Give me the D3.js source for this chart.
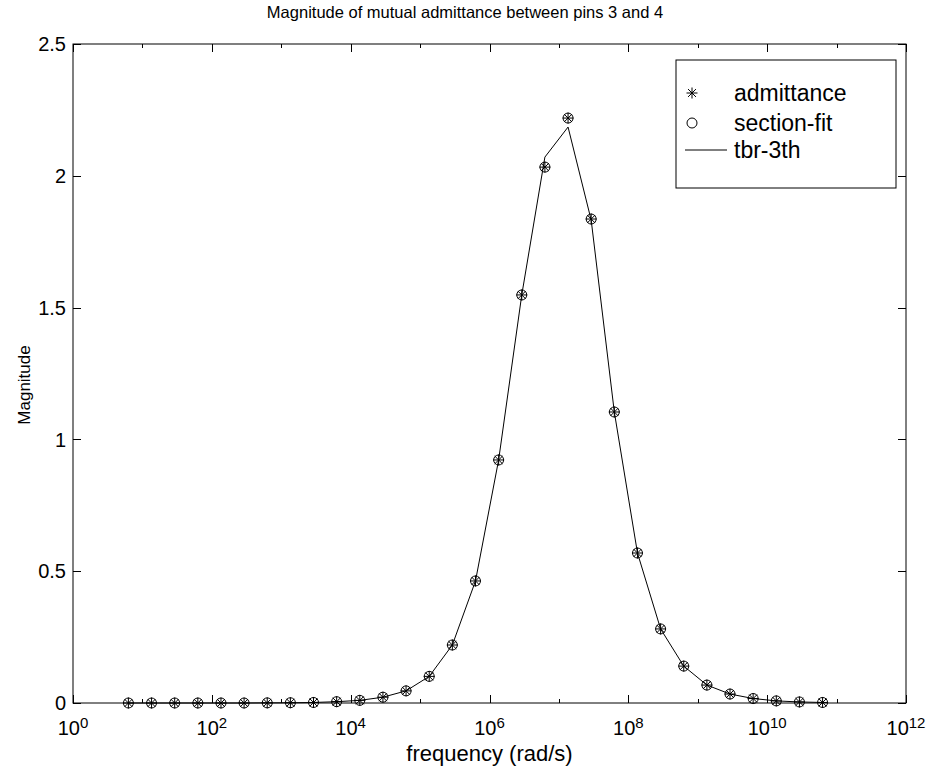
<!DOCTYPE html>
<html>
<head>
<meta charset="utf-8">
<script src="https://cdn.jsdelivr.net/npm/d3@7"></script>
<style>
  html, body { margin: 0; padding: 0; background: #fff; }
  svg { display: block; font-family: "Liberation Sans", Arial, Helvetica, sans-serif; }
</style>
</head>
<body>
<svg id="chart" width="930" height="770"></svg>
<script>
// ---- data ----
const freqs = [6.283, 13.54, 29.16, 62.83, 135.4, 291.6, 628.3, 1354, 2916, 6283,
  13540, 29160, 62830, 135400, 291600, 628300, 1354000, 2916000, 6283000, 13540000,
  29160000, 62830000, 135400000, 291600000, 628300000, 1354000000, 2916000000,
  6283000000, 13540000000, 29160000000, 62830000000];
const admittance = [0.0, 0.0, 0.0, 0.0, 0.0, 0.0, 0.0005, 0.001, 0.002, 0.005,
  0.010, 0.022, 0.046, 0.101, 0.220, 0.463, 0.922, 1.548, 2.033, 2.219,
  1.836, 1.104, 0.569, 0.281, 0.140, 0.068, 0.034, 0.017, 0.008, 0.004, 0.002];
const sectionFit = [0.0, 0.0, 0.0, 0.0, 0.0, 0.0, 0.0005, 0.001, 0.002, 0.005,
  0.010, 0.022, 0.046, 0.101, 0.220, 0.463, 0.922, 1.548, 2.033, 2.219,
  1.836, 1.104, 0.569, 0.281, 0.140, 0.068, 0.034, 0.017, 0.008, 0.004, 0.002];
const tbr3 = [0.0, 0.0, 0.0, 0.0, 0.0, 0.0, 0.0005, 0.001, 0.002, 0.005,
  0.010, 0.022, 0.046, 0.101, 0.220, 0.463, 0.922, 1.548, 2.071, 2.185,
  1.832, 1.104, 0.569, 0.281, 0.140, 0.068, 0.034, 0.017, 0.008, 0.004, 0.002];
const xTickExps = [0, 2, 4, 6, 8, 10, 12];
const xMinorExps = [1, 3, 5, 7, 9, 11];
const yTicks = [0, 0.5, 1, 1.5, 2, 2.5];
const yTickLabels = ["0", "0.5", "1", "1.5", "2", "2.5"];
const titleText = "Magnitude of mutual admittance between pins 3 and 4";
const xLabel = "frequency (rad/s)";
const yLabel = "Magnitude";
const legendLabels = ["admittance", "section-fit", "tbr-3th"];

// ---- layout ----
const L = 73, R = 906, T = 44, B = 703;
const svg = d3.select("#chart");
const x = d3.scaleLog().domain([1, 1e12]).range([L, R]);
const y = d3.scaleLinear().domain([0, 2.5]).range([B, T]);

// title
svg.append("text").attr("x", 465).attr("y", 18).attr("text-anchor", "middle")
  .attr("font-size", 16.5).text(titleText);

// axes box
svg.append("rect").attr("x", L).attr("y", T).attr("width", R - L).attr("height", B - T)
  .attr("fill", "none").attr("stroke", "#000").attr("stroke-width", 1);

const g = svg.append("g").attr("stroke", "#000").attr("stroke-width", 1);
xTickExps.forEach(e => {
  const px = Math.round(x(Math.pow(10, e))) + 0.5;
  g.append("line").attr("x1", px).attr("x2", px).attr("y1", B).attr("y2", B - 8);
  g.append("line").attr("x1", px).attr("x2", px).attr("y1", T).attr("y2", T + 8);
});
xMinorExps.forEach(e => {
  const px = Math.round(x(Math.pow(10, e))) + 0.5;
  g.append("line").attr("x1", px).attr("x2", px).attr("y1", B).attr("y2", B - 4);
  g.append("line").attr("x1", px).attr("x2", px).attr("y1", T).attr("y2", T + 4);
});
yTicks.forEach(v => {
  const py = Math.round(y(v)) + 0.5;
  g.append("line").attr("x1", L).attr("x2", L + 8).attr("y1", py).attr("y2", py);
  g.append("line").attr("x1", R).attr("x2", R - 8).attr("y1", py).attr("y2", py);
});

xTickExps.forEach(e => {
  const t = svg.append("text").attr("x", x(Math.pow(10, e))).attr("y", 735)
    .attr("text-anchor", "middle").attr("font-size", 20);
  t.append("tspan").text("10");
  t.append("tspan").attr("font-size", 15).attr("dy", -7).text(String(e));
});
yTicks.forEach((v, i) => {
  svg.append("text").attr("x", 66).attr("y", y(v)).attr("dy", "0.36em")
    .attr("text-anchor", "end").attr("font-size", 20).text(yTickLabels[i]);
});

svg.append("text").attr("x", (L + R) / 2).attr("y", 761).attr("text-anchor", "middle")
  .attr("font-size", 22).text(xLabel);
svg.append("text").attr("transform", "translate(30,385) rotate(-90)")
  .attr("text-anchor", "middle").attr("font-size", 17).text(yLabel);

const line = d3.line().x((d, i) => x(freqs[i])).y(d => y(d));
svg.append("path").datum(tbr3).attr("d", line)
  .attr("fill", "none").attr("stroke", "#000").attr("stroke-width", 1);

function asterisk(sel, cx, cy, r) {
  const gg = sel.append("g").attr("stroke", "#000").attr("stroke-width", 1);
  const d = r * 0.72;
  gg.append("line").attr("x1", cx - r).attr("x2", cx + r).attr("y1", cy).attr("y2", cy);
  gg.append("line").attr("x1", cx).attr("x2", cx).attr("y1", cy - r).attr("y2", cy + r);
  gg.append("line").attr("x1", cx - d).attr("x2", cx + d).attr("y1", cy - d).attr("y2", cy + d);
  gg.append("line").attr("x1", cx - d).attr("x2", cx + d).attr("y1", cy + d).attr("y2", cy - d);
}
const mk = svg.append("g");
admittance.forEach((v, i) => asterisk(mk, x(freqs[i]), y(v), 5.5));
mk.selectAll("circle.sf").data(sectionFit).enter().append("circle")
  .attr("cx", (d, i) => x(freqs[i])).attr("cy", d => y(d)).attr("r", 5)
  .attr("fill", "none").attr("stroke", "#000").attr("stroke-width", 1);

const lg = svg.append("g");
lg.append("rect").attr("x", 676).attr("y", 60).attr("width", 220).attr("height", 128)
  .attr("fill", "#fff").attr("stroke", "#000").attr("stroke-width", 1);
const rows = [93, 123, 150];
asterisk(lg, 692, rows[0], 5.5);
lg.append("circle").attr("cx", 692).attr("cy", rows[1]).attr("r", 5)
  .attr("fill", "none").attr("stroke", "#000");
lg.append("line").attr("x1", 685).attr("x2", 727).attr("y1", rows[2]).attr("y2", rows[2])
  .attr("stroke", "#000");
legendLabels.forEach((s, i) => {
  lg.append("text").attr("x", 734).attr("y", rows[i]).attr("dy", "0.36em")
    .attr("font-size", 23).text(s);
});
</script>
</body>
</html>
